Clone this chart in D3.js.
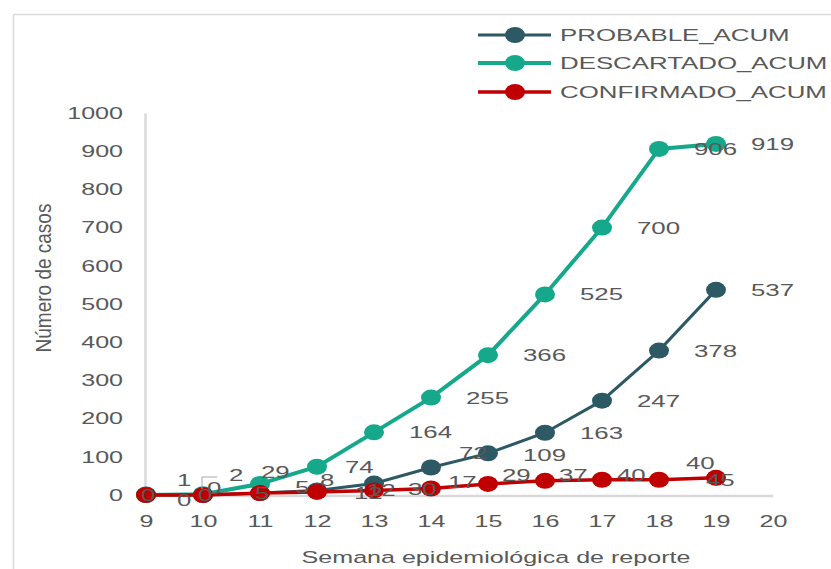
<!DOCTYPE html>
<html>
<head>
<meta charset="utf-8">
<script src="https://cdn.jsdelivr.net/npm/d3@7"></script>
<style>
  body { margin: 0; background: #fff; }
  text { font-family: "Liberation Sans", Arial, sans-serif; fill: #595959; }
</style>
</head>
<body>
<svg id="chart" width="831" height="569"></svg>
<script>
// DATA
var weeks = [9, 10, 11, 12, 13, 14, 15, 16, 17, 18, 19];
var probable = [1, 0, 5, 12, 30, 72, 109, 163, 247, 378, 537];
var descartado = [0, 2, 29, 74, 164, 255, 366, 525, 700, 906, 919];
var confirmado = [0, 0, 5, 8, 12, 17, 29, 37, 40, 40, 45];
var seriesNames = ["PROBABLE_ACUM", "DESCARTADO_ACUM", "CONFIRMADO_ACUM"];
var xTicks = [9, 10, 11, 12, 13, 14, 15, 16, 17, 18, 19, 20];
var yTicks = [0, 100, 200, 300, 400, 500, 600, 700, 800, 900, 1000];

// the source picture is stretched sideways, so text gets the same stretch
var SX = 1.52;

// labels that were dragged by hand in the original: [dx, dy] from the point
var labelNudge = {
  "P9": [31, -15], "P10": [4, -7], "P11": [35, -6], "P12": [37, 3], "P13": [34, 6], "P14": [28, -14], "P15": [35, 2],
  "D9": [31, 5], "D10": [26, -19], "D11": [1, -12], "D12": [28, 0],
  "C9": [-5, 0], "C10": [-5, 0], "C11": [-5, 0], "C12": [3, -12], "C13": [-7, 0], "C14": [17, -6],
  "C15": [14, -9], "C16": [14, -6], "C17": [15, -5], "C18": [27, -17], "C19": [-10, 2]
};

var svg = d3.select("#chart");

var series = [
  {key: "P", name: seriesNames[0], values: probable, color: "#2d5965", width: 3},
  {key: "D", name: seriesNames[1], values: descartado, color: "#16a88b", width: 4},
  {key: "C", name: seriesNames[2], values: confirmado, color: "#c00000", width: 3.5}
];

var x = d3.scaleLinear().domain([9, 20]).range([146, 773]),
    y = d3.scaleLinear().domain([0, 1000]).range([495, 113]);

// outer chart border
svg.append("rect")
    .attr("x", 13.5).attr("y", 14.5)
    .attr("width", 900).attr("height", 700)
    .attr("fill", "none")
    .attr("stroke", "#d9d9d9")
    .attr("stroke-width", 1.5);

// y axis
var gy = svg.append("g")
    .attr("transform", "translate(145,0)")
    .call(d3.axisLeft(y).tickValues(yTicks).tickFormat(d3.format("d")).tickSize(0).tickSizeOuter(0).tickPadding(0));
gy.select(".domain").attr("stroke", "#d9d9d9").attr("stroke-width", 2.5);
gy.selectAll("text")
    .attr("x", -22 / SX)
    .attr("transform", "scale(" + SX + ",1)")
    .attr("font-size", 16.5)
    .attr("font-family", null)
    .attr("fill", "#595959");

// x axis
var gx = svg.append("g")
    .attr("transform", "translate(0,496)")
    .call(d3.axisBottom(x).tickValues(xTicks).tickSize(0).tickSizeOuter(0).tickPadding(0));
gx.select(".domain").attr("stroke", "#d9d9d9").attr("stroke-width", 2.5).attr("d", "M140,0H773");
gx.selectAll(".tick text")
    .attr("x", 0)
    .attr("y", 25)
    .attr("dy", "0.35em")
    .attr("transform", "scale(" + SX + ",1)")
    .attr("font-size", 16.5)
    .attr("font-family", null)
    .attr("fill", "#595959");

// lines and markers
var line = d3.line()
    .x(function(d, i) { return x(weeks[i]); })
    .y(function(d) { return y(d); });

series.forEach(function(s) {
  svg.append("path")
      .attr("d", line(s.values))
      .attr("fill", "none")
      .attr("stroke", s.color)
      .attr("stroke-width", s.width);
  svg.append("g").selectAll("ellipse")
      .data(s.values)
    .join("ellipse")
      .attr("cx", function(d, i) { return x(weeks[i]); })
      .attr("cy", function(d) { return y(d); })
      .attr("rx", 10)
      .attr("ry", 8)
      .attr("fill", s.color);
});

// small leader line of the dragged label at week 10
svg.append("path")
    .attr("d", "M" + (x(10) - 1) + "," + (y(0) - 6) + "V" + (y(0) - 18) + "H" + (x(10) + 14))
    .attr("fill", "none")
    .attr("stroke", "#a6a6a6")
    .attr("stroke-width", 1);

// data labels
series.forEach(function(s) {
  svg.append("g").selectAll("text")
      .data(s.values)
    .join("text")
      .attr("transform", function(d, i) {
        var n = labelNudge[s.key + weeks[i]] || [35, 0];
        return "translate(" + (x(weeks[i]) + n[0]) + "," + (y(d) + n[1]) + ") scale(" + SX + ",1)";
      })
      .attr("dy", "0.35em")
      .attr("font-size", 17)
      .text(function(d) { return d; });
});

// axis titles
svg.append("text")
    .attr("transform", "translate(496,557) scale(" + SX + ",1)")
    .attr("text-anchor", "middle")
    .attr("dy", "0.35em")
    .attr("font-size", 16.5)
    .text("Semana epidemiológica de reporte");

svg.append("text")
    .attr("transform", "translate(43,278) rotate(-90) scale(1,1.2)")
    .attr("text-anchor", "middle")
    .attr("dy", "0.35em")
    .attr("font-size", 19)
    .text("Número de casos");

// legend
var legend = svg.append("g").selectAll("g")
    .data(series)
  .join("g")
    .attr("transform", function(d, i) { return "translate(0," + [35, 63, 92][i] + ")"; });
legend.append("line")
    .attr("x1", 478).attr("x2", 551)
    .attr("stroke", function(d) { return d.color; })
    .attr("stroke-width", function(d) { return d.width; });
legend.append("ellipse")
    .attr("cx", 515).attr("rx", 10).attr("ry", 8)
    .attr("fill", function(d) { return d.color; });
legend.append("text")
    .attr("transform", "translate(560,0) scale(" + SX + ",1)")
    .attr("dy", "0.35em")
    .attr("font-size", 17)
    .text(function(d) { return d.name; });
</script>
</body>
</html>
